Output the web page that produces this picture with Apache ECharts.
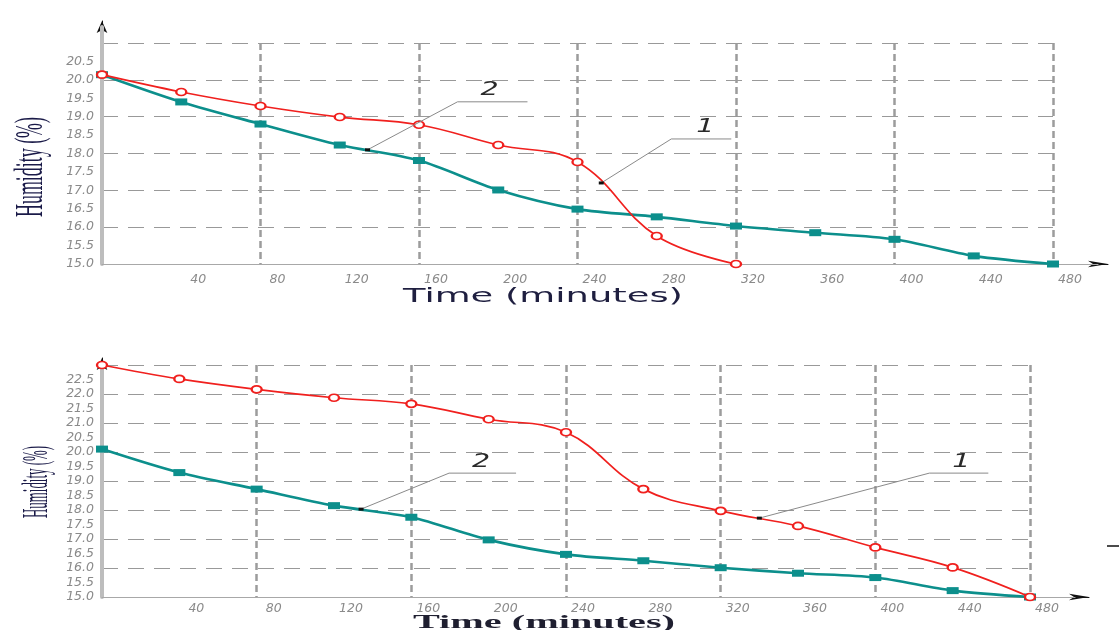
<!DOCTYPE html>
<html><head><meta charset="utf-8">
<script src="https://cdn.jsdelivr.net/npm/echarts@6/dist/echarts.min.js"></script>
<style>html,body{margin:0;padding:0;background:#fff}#c{width:1119px;height:630px}</style>
</head><body><div id="c"></div>
<script>
// ---- data ----
const times = [0, 40, 80, 120, 160, 200, 240, 280, 320, 360, 400, 440, 480];
const topCurve1 = [20.14, 19.67, 19.29, 18.99, 18.78, 18.23, 17.77, 15.76, 15.0];
const topCurve2 = [20.14, 19.40, 18.80, 18.23, 17.81, 17.01, 16.49, 16.28, 16.03, 15.85, 15.67, 15.22, 15.0];
const botCurve1 = [23.0, 22.52, 22.16, 21.87, 21.66, 21.13, 20.68, 18.72, 17.97, 17.45, 16.71, 16.02, 15.0];
const botCurve2 = [20.1, 19.29, 18.72, 18.15, 17.75, 16.97, 16.47, 16.25, 16.01, 15.82, 15.67, 15.22, 15.0];
const xMin = 0, xMax = 480, xLabelStep = 40, xGridStep = 80;
const yMin = 15, topYMax = 21, botYMax = 23, yLabelStep = 0.5, yGridStep = 1;
// callout labels: [panel, curve label text, time, humidity]
const callouts = [
  [0, '2', 134, 18.10],
  [0, '1', 252, 17.20],
  [1, '2', 134, 18.03],
  [1, '1', 340, 17.72]
];
const xTitle = 'Time (minutes)';
const yTitle = 'Humidity (%)';

// ---- layout ----
const W = 1119, H = 630;
const panels = [
  { top: 43, bottomY: 264, rightX: 1053, arrowTop: 21, grayTop: 27, arrowX: 1108, grayX: 1098, lblMargin: 9,
    yMax: topYMax, c1: topCurve1, c2: topCurve2,
    callOff: { '2': [90, -48, 160, 122, -60], '1': [70, -44, 130, 104, -56] } },
  { top: 365, bottomY: 597, rightX: 1030, arrowTop: 358, grayTop: 363, arrowX: 1089, grayX: 1075, lblMargin: 5,
    yMax: botYMax, c1: botCurve1, c2: botCurve2,
    callOff: { '2': [88, -36, 155, 120, -47], '1': [170, -45, 229, 202, -56] } }
];
const L = 102;
const RED = '#f0201e', TEAL = '#0c8f8c';
const labelStyle = { color: '#8a8a8a', fontStyle: 'italic', fontFamily: 'DejaVu Sans', fontSize: 12.5 };

const grid = [], xAxis = [], yAxis = [], series = [];
panels.forEach((p, pi) => {
  grid.push({ left: L, top: p.arrowTop, width: p.arrowX - L, height: p.bottomY - p.arrowTop });
  grid.push({ left: L, top: p.grayTop, width: p.grayX - L, height: p.bottomY - p.grayTop });
  grid.push({ left: L, top: p.top, width: p.rightX - L, height: p.bottomY - p.top });
  const g0 = pi * 3;
  const hidden = { axisTick: { show: false }, axisLabel: { show: false }, splitLine: { show: false } };
  // arrow axes
  xAxis.push(Object.assign({ gridIndex: g0, type: 'value', min: 0, max: 1, z: 1,
    axisLine: { show: true, onZero: false, symbol: ['none', 'arrow'], symbolSize: [5, 20], lineStyle: { color: '#111', width: 1 } } }, hidden));
  yAxis.push(Object.assign({ gridIndex: g0, type: 'value', min: 0, max: 1, z: 1,
    axisLine: { show: true, onZero: false, symbol: ['none', 'arrow'], symbolSize: [8, 12], lineStyle: { color: '#111', width: 1 } } }, hidden));
  // gray axis lines
  xAxis.push(Object.assign({ gridIndex: g0 + 1, type: 'value', min: 0, max: 1, z: 2,
    axisLine: { show: true, onZero: false, lineStyle: { color: '#a8a8a8', width: 1.2 } } }, hidden));
  yAxis.push(Object.assign({ gridIndex: g0 + 1, type: 'value', min: 0, max: 1, z: 2,
    axisLine: { show: true, onZero: false, lineStyle: { color: '#bdbdbd', width: 4 } } }, hidden));
  // label axes
  xAxis.push({ gridIndex: g0 + 2, type: 'value', min: xMin, max: xMax, interval: xLabelStep,
    axisLine: { show: false }, axisTick: { show: false }, splitLine: { show: false },
    axisLabel: Object.assign({ showMinLabel: false, margin: p.lblMargin, padding: [0, 0, 0, 34] }, labelStyle) });
  yAxis.push({ gridIndex: g0 + 2, type: 'value', min: yMin, max: p.yMax, interval: yLabelStep,
    axisLine: { show: false }, axisTick: { show: false }, splitLine: { show: false },
    axisLabel: Object.assign({ showMaxLabel: false, margin: 8, formatter: v => v.toFixed(1) }, labelStyle) });
  // grid-line axes
  xAxis.push({ gridIndex: g0 + 2, type: 'value', min: xMin, max: xMax, interval: xGridStep,
    axisLine: { show: false }, axisTick: { show: false }, axisLabel: { show: false },
    splitLine: { show: true, lineStyle: { color: '#9c9c9c', width: 2.5, type: [7, 4] } } });
  yAxis.push({ gridIndex: g0 + 2, type: 'value', min: yMin, max: p.yMax, interval: yGridStep,
    axisLine: { show: false }, axisTick: { show: false }, axisLabel: { show: false },
    splitLine: { show: true, lineStyle: { color: '#999999', width: 1.2, type: [16, 10] } } });
  const ai = pi * 4 + 2;
  series.push({ type: 'line', xAxisIndex: ai, yAxisIndex: ai, smooth: 0.3, z: 3,
    data: p.c2.map((v, i) => [times[i], v]),
    lineStyle: { color: TEAL, width: 2.6 }, symbol: 'rect', symbolSize: [12, 7],
    itemStyle: { color: TEAL } });
  series.push({ type: 'line', xAxisIndex: ai, yAxisIndex: ai, smooth: 0.4, z: 4,
    data: p.c1.map((v, i) => [times[i], v]),
    lineStyle: { color: RED, width: 1.7 }, symbol: 'emptyCircle', symbolSize: [10, 7],
    itemStyle: { color: RED, borderColor: RED, borderWidth: 1.5 } });
});

const chart = echarts.init(document.getElementById('c'), null, { renderer: 'canvas', width: W, height: H });
chart.setOption({ animation: false, backgroundColor: '#fff', grid, xAxis, yAxis, series });

// ---- texts & callouts ----
const cv = document.createElement('canvas').getContext('2d');
function measure(text, font) { cv.font = font; return cv.measureText(text).width; }
function fitText(text, cx, cy, family, size, weight, targetLen, color, rot) {
  const w = measure(text, `${weight} ${size}px ${family}`);
  return { type: 'text', x: cx, y: cy, rotation: rot || 0, scaleX: targetLen / w, z: 20,
    style: { text, fontFamily: family, fontSize: size, fontWeight: weight, fill: color, align: 'center', verticalAlign: 'middle' } };
}
const graphic = [
  fitText(xTitle, 543, 297, 'DejaVu Sans', 19, 'normal', 280, '#1f1f40'),
  fitText(xTitle, 544, 623, 'Liberation Serif', 19, 'bold', 262, '#1f1f30'),
  fitText(yTitle, 31, 167, 'Liberation Serif', 40, 'normal', 100, '#1a1a48', Math.PI / 2),
  fitText(yTitle, 38, 482, 'Liberation Serif', 36, 'normal', 72, '#1a1a48', Math.PI / 2),
  { type: 'line', shape: { x1: 1107, y1: 546, x2: 1119, y2: 546 }, style: { stroke: '#111', lineWidth: 1.5 } }
];
callouts.forEach(([pi, lbl, t, v]) => {
  const p = panels[pi];
  const s = chart.convertToPixel({ seriesIndex: pi * 2 + (lbl === '2' ? 0 : 1) }, [t, v]);
  const o = p.callOff[lbl];
  graphic.push({ type: 'polyline', z: 15, shape: { points: [[s[0], s[1]], [s[0] + o[0], s[1] + o[1]], [s[0] + o[2], s[1] + o[1]]] },
    style: { stroke: '#8a8a8a', lineWidth: 1, fill: null } });
  graphic.push({ type: 'rect', z: 16, shape: { x: s[0] - 2.5, y: s[1] - 1.5, width: 5, height: 3 }, style: { fill: '#111' } });
  graphic.push({ type: 'text', x: s[0] + o[3], y: s[1] + o[4], scaleX: 1.5, z: 16,
    style: { text: lbl, fontFamily: 'DejaVu Sans', fontStyle: 'italic', fontSize: 19, fill: '#2a2a2a', align: 'center', verticalAlign: 'middle' } });
});
chart.setOption({ graphic });
</script>
</body></html>
